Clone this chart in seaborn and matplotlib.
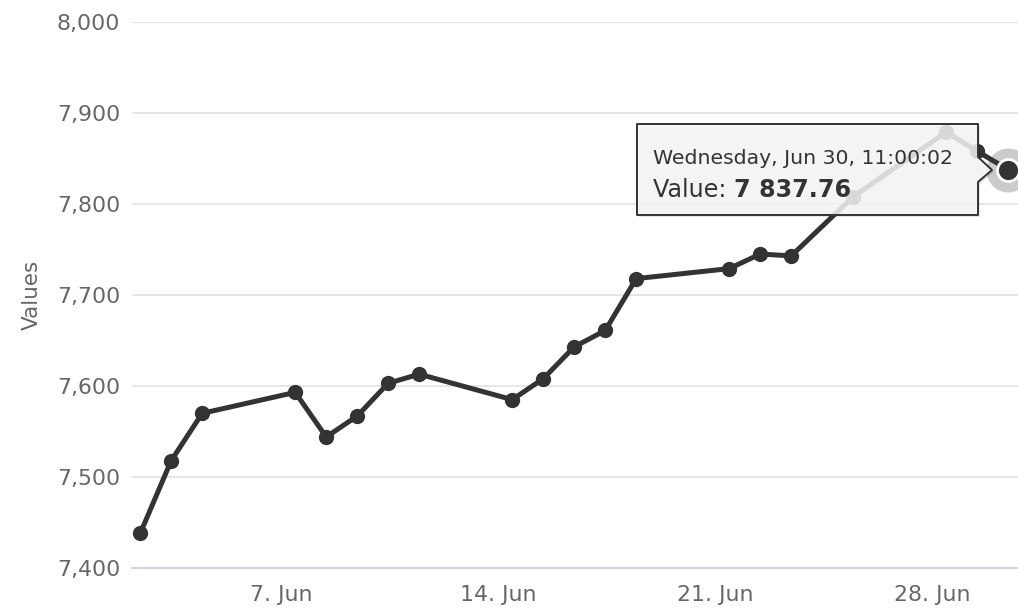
import matplotlib
matplotlib.use("Agg")
import matplotlib.dates as mdates
import matplotlib.pyplot as plt
import pandas as pd
import seaborn as sns
from matplotlib.patches import Polygon
from matplotlib.ticker import FuncFormatter

# data (June 2021, daily readings at 11:00:02)
days = [2, 3, 4, 7, 8, 9, 10, 11, 14, 15, 16, 17, 18, 21, 22, 23, 25, 28, 29, 30]
values = [7438, 7518, 7570, 7593, 7544, 7567, 7603, 7613, 7585, 7608,
          7643, 7661, 7718, 7729, 7745, 7743, 7808, 7879, 7858, 7837.76]
y_ticks = [7400, 7500, 7600, 7700, 7800, 7900, 8000]
tick_days = [7, 14, 21, 28]

df = pd.DataFrame({
    "time": [pd.Timestamp(2021, 6, d, 11, 0, 2) for d in days],
    "value": values,
})

sns.set_style("white")
plt.rcParams["font.family"] = ["DejaVu Sans"]

W, H = 1018, 609
fig = plt.figure(figsize=(W / 100, H / 100), dpi=100)
ax = fig.add_axes([132 / W, 41 / H, 886 / W, 546 / H])

sns.lineplot(data=df, x="time", y="value", color="#333333", lw=3.6,
             marker="o", markersize=11, markeredgewidth=0, ax=ax, zorder=3)

# hovered point: halo + enlarged marker
last = df.iloc[-1]
ax.scatter([last["time"]], [last["value"]], s=1000, color="#333333",
           alpha=0.25, lw=0, clip_on=False, zorder=5)
ax.scatter([last["time"]], [last["value"]], s=250, color="#333333",
           edgecolor="white", lw=2, clip_on=False, zorder=6)

# axes styling
base = pd.Timestamp(2021, 6, 7)
ax.set_xlim(base - pd.Timedelta(days=149 / 31), base + pd.Timedelta(days=737 / 31))
ax.set_ylim(7400, 8000)
ax.set_yticks(y_ticks)
ax.yaxis.set_major_formatter(FuncFormatter(lambda v, p: f"{v:,.0f}"))
ax.xaxis.set_major_locator(mdates.DayLocator(bymonthday=tick_days))
ax.xaxis.set_major_formatter(mdates.DateFormatter("%-d. %b"))

ax.grid(axis="y", color="#e6e6e6", lw=1.44)
ax.grid(axis="x", visible=False)
ax.set_axisbelow(True)
for s in ["left", "top", "right"]:
    ax.spines[s].set_visible(False)
ax.spines["bottom"].set_color("#ccd6eb")
ax.spines["bottom"].set_linewidth(1.44)

ax.tick_params(axis="y", length=0, pad=8.6, labelsize=15.8, labelcolor="#666666")
ax.tick_params(axis="x", length=7.2, width=1.44, color="#ccd6eb",
               labelcolor="#666666", labelsize=15.8, pad=5)
ax.set_xlabel("")
ax.set_ylabel("Values", fontsize=15.5, color="#666666")
ax.yaxis.set_label_coords(-0.102, 0.5)


# tooltip (pixel positions, y from top)
def px(x, y):
    return (x / W, 1 - y / H)


box = [px(637, 124), px(978, 124), px(978, 157), px(992, 170),
       px(978, 182), px(978, 215), px(637, 215)]
shadow = [(x + 2 / W, y - 2 / H) for x, y in box]
ax.add_patch(Polygon(shadow, closed=True, transform=fig.transFigure,
                     facecolor="black", alpha=0.10, lw=0, clip_on=False, zorder=9))
ax.add_patch(Polygon(box, closed=True, transform=fig.transFigure,
                     facecolor=(247 / 255, 247 / 255, 247 / 255, 0.85),
                     edgecolor="#333333", lw=1.4, joinstyle="round",
                     clip_on=False, zorder=10))

header = last["time"].strftime("%A, %b %d, %H:%M:%S")
value_txt = f"{last['value']:,.2f}".replace(",", " ")
ax.text(*px(653, 158), header, transform=fig.transFigure, fontsize=14.7,
        color="#333333", va="center", ha="left", zorder=11)
t1 = ax.text(*px(653, 202), "Value: ", transform=fig.transFigure, fontsize=17.2,
             color="#333333", va="bottom", ha="left", zorder=11)
ax.annotate(value_txt, xy=(1, 0), xycoords=t1, fontsize=17.2, fontweight="bold",
            color="#333333", va="bottom", ha="left", zorder=11)

fig.savefig("out.png", dpi=100)
